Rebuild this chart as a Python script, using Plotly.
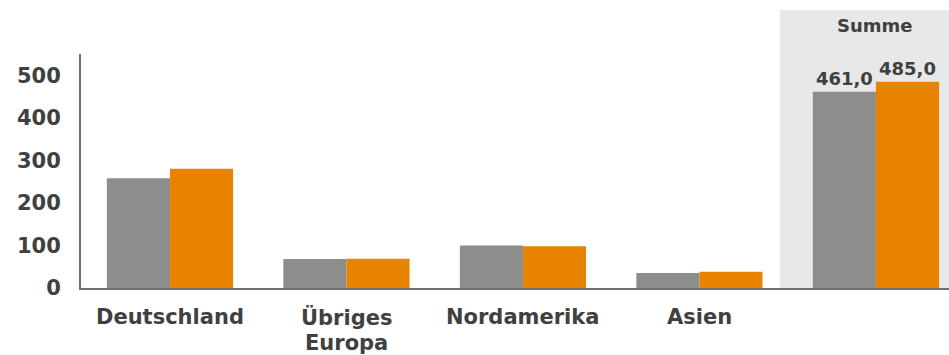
import plotly.graph_objects as go

# Regions and the two series (the totals are shown in the "Summe" column)
categories = ["Deutschland", "Übriges Europa", "Nordamerika", "Asien", "Summe"]
series_a = [258, 68, 100, 35, 461.0]
series_b = [280, 69, 98, 38, 485.0]
tick_vals = [0, 100, 200, 300, 400, 500]
label_lines = [["Deutschland"], ["Übriges", "Europa"], ["Nordamerika"], ["Asien"]]

GRAY = "#8c8d8c"
ORANGE = "#e88300"
TEXT = "#404040"
FONT = "DejaVu Sans"


def total_label(values):
    # only the total column gets a value label, with a decimal comma
    return ["" if c != "Summe" else "<b>" + f"{v:.1f}".replace(".", ",") + "</b>"
            for c, v in zip(categories, values)]


fig = go.Figure()
for vals, color in [(series_a, GRAY), (series_b, ORANGE)]:
    fig.add_trace(go.Bar(
        x=categories, y=vals, marker=dict(color=color, line=dict(width=0)),
        text=total_label(vals), textposition="outside", cliponaxis=False,
        textfont=dict(family=FONT, size=18, color=TEXT),
        hoverinfo="skip",
    ))

# shaded background behind the total column
fig.add_shape(type="rect", xref="x", yref="paper", x0=3.456, x1=4.6,
              y0=0, y1=1.188, fillcolor="#e8e8e8", line=dict(width=0),
              layer="below")
fig.add_annotation(text="<b>Summe</b>", xref="x", yref="paper", x=3.996,
                   y=1.12, yanchor="middle", showarrow=False,
                   font=dict(family=FONT, size=18, color=TEXT))

# category labels below the axis, centred under each bar pair,
# one annotation per line so the line spacing stays tight
line_y = [-0.124, -0.236]
for i, lines in enumerate(label_lines):
    for j, txt in enumerate(lines):
        fig.add_annotation(text=f"<b>{txt}</b>", xref="x", yref="paper",
                           x=i, y=line_y[j], yanchor="middle",
                           showarrow=False, align="center",
                           font=dict(family=FONT, size=21, color=TEXT))

fig.update_layout(
    width=949, height=355,
    margin=dict(l=81, r=0, t=54, b=67),
    barmode="group", bargap=0.285, bargroupgap=0,
    showlegend=False,
    paper_bgcolor="white", plot_bgcolor="rgba(0,0,0,0)",
    xaxis=dict(range=[-0.504, 4.414], showticklabels=False, ticks="",
               showgrid=False, showline=True, linecolor="#707070",
               linewidth=2, zeroline=False),
    yaxis=dict(range=[0, 550], tickvals=tick_vals,
               ticktext=[f"<b>{v}</b>" for v in tick_vals],
               showgrid=False, showline=True, linecolor="#707070",
               linewidth=2, zeroline=False, ticks="outside",
               ticklen=14, tickcolor="rgba(0,0,0,0)",
               tickfont=dict(family=FONT, size=21, color=TEXT)),
)

fig.write_html("out.html")
